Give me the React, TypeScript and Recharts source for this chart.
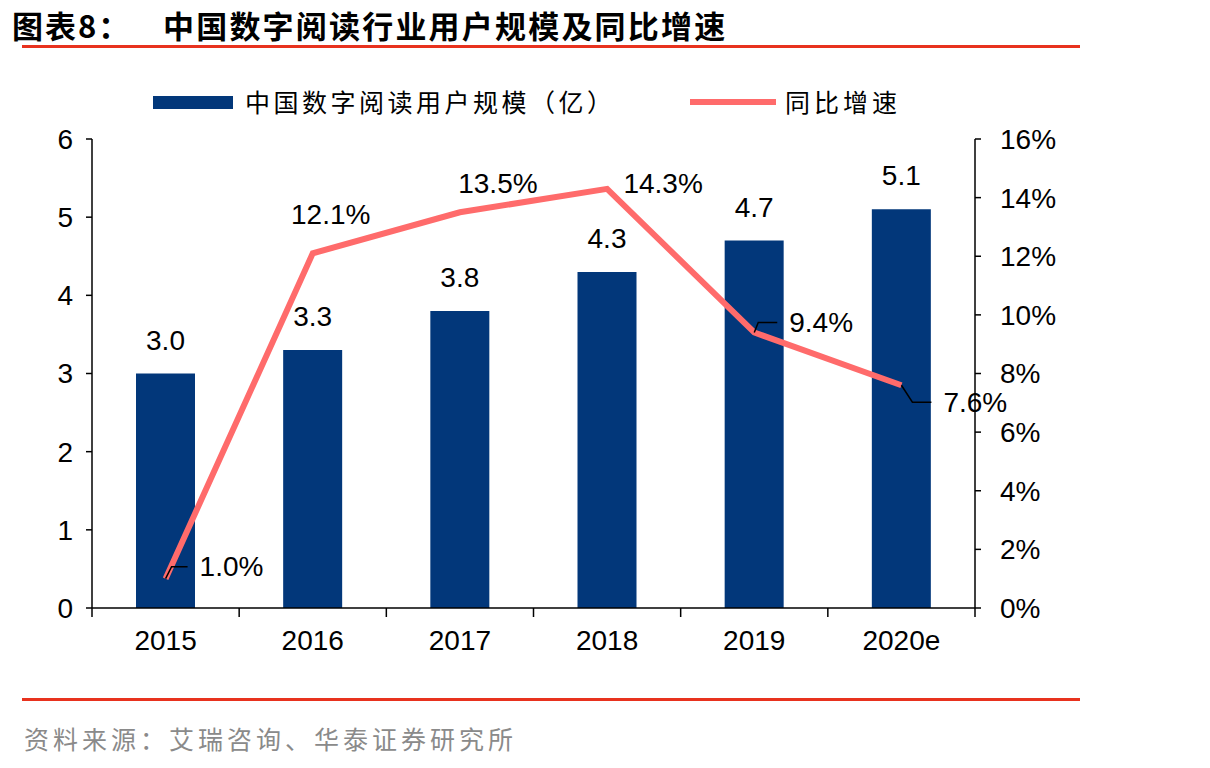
import { ComposedChart, Bar, Line, XAxis, YAxis, LabelList } from "recharts"

const years = ["2015", "2016", "2017", "2018", "2019", "2020e"]
const users = [3.0, 3.3, 3.8, 4.3, 4.7, 5.1]
const growth = [1.0, 12.1, 13.5, 14.3, 9.4, 7.6]
const leftTicks = [0, 1, 2, 3, 4, 5, 6]
const rightTicks = [0, 2, 4, 6, 8, 10, 12, 14, 16]
const bandTicks = [0, 1, 2, 3, 4, 5, 6]

const data = years.map((y, i) => ({ year: y, idx: i, users: users[i], growth: growth[i] }))

const BLUE = "#02377a"
const RED = "#ff6b6b"
const FONT = "'Liberation Sans', Arial, sans-serif"
const CJK = "'Noto Sans CJK SC', sans-serif"

// where each growth label sits relative to its point, and whether it gets a leader
const labelPos = [
    { dx: 34, dy: -10, leader: [[6, -12], [22, -12]] },
    { dx: 18, dy: -39 },
    { dx: 38, dy: -29 },
    { dx: 56, dy: -5 },
    { dx: 37, dy: -9, leader: [[4, -10], [23, -10]] },
    { dx: 44, dy: 18, leader: [[11, 17], [30, 17]] },
]

const GrowthLabel = (props: any) => {
    const { x, y, index, value } = props
    const p = labelPos[index]
    const tx = p.leader ? x + p.leader[1][0] + 12 : x + p.dx
    const anchor = p.leader ? "start" : "middle"
    return (
        <g>
            {p.leader && (
                <polyline
                    points={`${x},${y} ${x + p.leader[0][0]},${y + p.leader[0][1]} ${x + p.leader[1][0]},${y + p.leader[1][1]}`}
                    fill="none"
                    stroke="#000"
                    strokeWidth={1.5}
                />
            )}
            <text
                x={tx}
                y={y + (p.leader ? p.leader[1][1] : p.dy)}
                textAnchor={anchor}
                dominantBaseline="central"
                fontSize={28}
                fontFamily={FONT}
                fill="#000"
            >
                {value.toFixed(1)}%
            </text>
        </g>
    )
}

// tick marks between the categories, no text
const BandTick = (props: any) => {
    const { x, y } = props
    return <line x1={x} y1={y - 9} x2={x} y2={y} stroke="#000" strokeWidth={1.5} />
}

const tickStyle = { fontSize: 28, fontFamily: FONT, fill: "#000" }
const axisStroke = { stroke: "#000", strokeWidth: 1.5 }

export default function App() {
    return (
        <div style={{ position: "absolute", left: 0, top: 0, width: 1210, height: 768, background: "#fff", overflow: "hidden" }}>
            <div style={{ position: "absolute", left: 12, top: 2, fontFamily: CJK, fontWeight: 700, fontSize: 31, letterSpacing: 2, whiteSpace: "nowrap", color: "#000" }}>
                图表8：
            </div>
            <div style={{ position: "absolute", left: 163, top: 2, fontFamily: CJK, fontWeight: 700, fontSize: 31, letterSpacing: 2.2, whiteSpace: "nowrap", color: "#000" }}>
                中国数字阅读行业用户规模及同比增速
            </div>
            <div style={{ position: "absolute", left: 22, top: 45, width: 1058, height: 3, background: "#e8321e" }} />

            {/* legend */}
            <div style={{ position: "absolute", left: 0, top: 83, fontFamily: CJK, fontSize: 25, color: "#000" }}>
                <div style={{ position: "absolute", left: 153, top: 13, width: 80, height: 13, background: BLUE }} />
                <span style={{ position: "absolute", left: 245, top: 0, letterSpacing: 3.5, whiteSpace: "nowrap" }}>中国数字阅读用户规模（亿）</span>
                <div style={{ position: "absolute", left: 690, top: 16, width: 86, height: 6, background: RED }} />
                <span style={{ position: "absolute", left: 785, top: 0, letterSpacing: 4, whiteSpace: "nowrap" }}>同比增速</span>
            </div>

            <div style={{ position: "absolute", left: 0, top: 0 }}>
                <ComposedChart
                    width={1210}
                    height={768}
                    data={data}
                    margin={{ top: 139, left: 32, right: 145, bottom: 120 }}
                >
                    <XAxis
                        xAxisId="band"
                        type="number"
                        dataKey="idx"
                        domain={[0, 6]}
                        ticks={bandTicks}
                        interval={0}
                        height={1}
                        tickSize={9}
                        tickMargin={0}
                        tick={<BandTick />}
                        tickLine={false}
                        axisLine={axisStroke}
                    />
                    <XAxis
                        xAxisId="cat"
                        dataKey="year"
                        height={39}
                        axisLine={false}
                        tickLine={false}
                        tickSize={0}
                        tickMargin={21}
                        tick={tickStyle}
                    />
                    <YAxis
                        yAxisId="left"
                        domain={[0, 6]}
                        ticks={leftTicks}
                        width={60}
                        tickSize={6}
                        tickMargin={13}
                        axisLine={axisStroke}
                        tickLine={axisStroke}
                        tick={tickStyle}
                    />
                    <YAxis
                        yAxisId="right"
                        orientation="right"
                        domain={[0, 16]}
                        ticks={rightTicks}
                        width={90}
                        tickSize={6}
                        tickMargin={19}
                        tickFormatter={(v: number) => `${v}%`}
                        axisLine={axisStroke}
                        tickLine={axisStroke}
                        tick={tickStyle}
                    />
                    <Bar
                        xAxisId="cat"
                        yAxisId="left"
                        dataKey="users"
                        fill={BLUE}
                        barSize={59}
                        isAnimationActive={false}
                    >
                        <LabelList
                            dataKey="users"
                            position="top"
                            offset={24}
                            formatter={(v: any) => Number(v).toFixed(1)}
                            style={tickStyle}
                        />
                    </Bar>
                    <Line
                        xAxisId="cat"
                        yAxisId="right"
                        dataKey="growth"
                        stroke={RED}
                        strokeWidth={6}
                        dot={false}
                        activeDot={false}
                        isAnimationActive={false}
                    >
                        <LabelList dataKey="growth" content={GrowthLabel} />
                    </Line>
                </ComposedChart>
            </div>

            <div style={{ position: "absolute", left: 22, top: 698, width: 1058, height: 3, background: "#e8321e" }} />
            <div style={{ position: "absolute", left: 24, top: 720, fontFamily: CJK, fontSize: 25, letterSpacing: 4, color: "#8a8a8a", whiteSpace: "nowrap" }}>
                资料来源：艾瑞咨询、华泰证券研究所
            </div>
        </div>
    )
}
